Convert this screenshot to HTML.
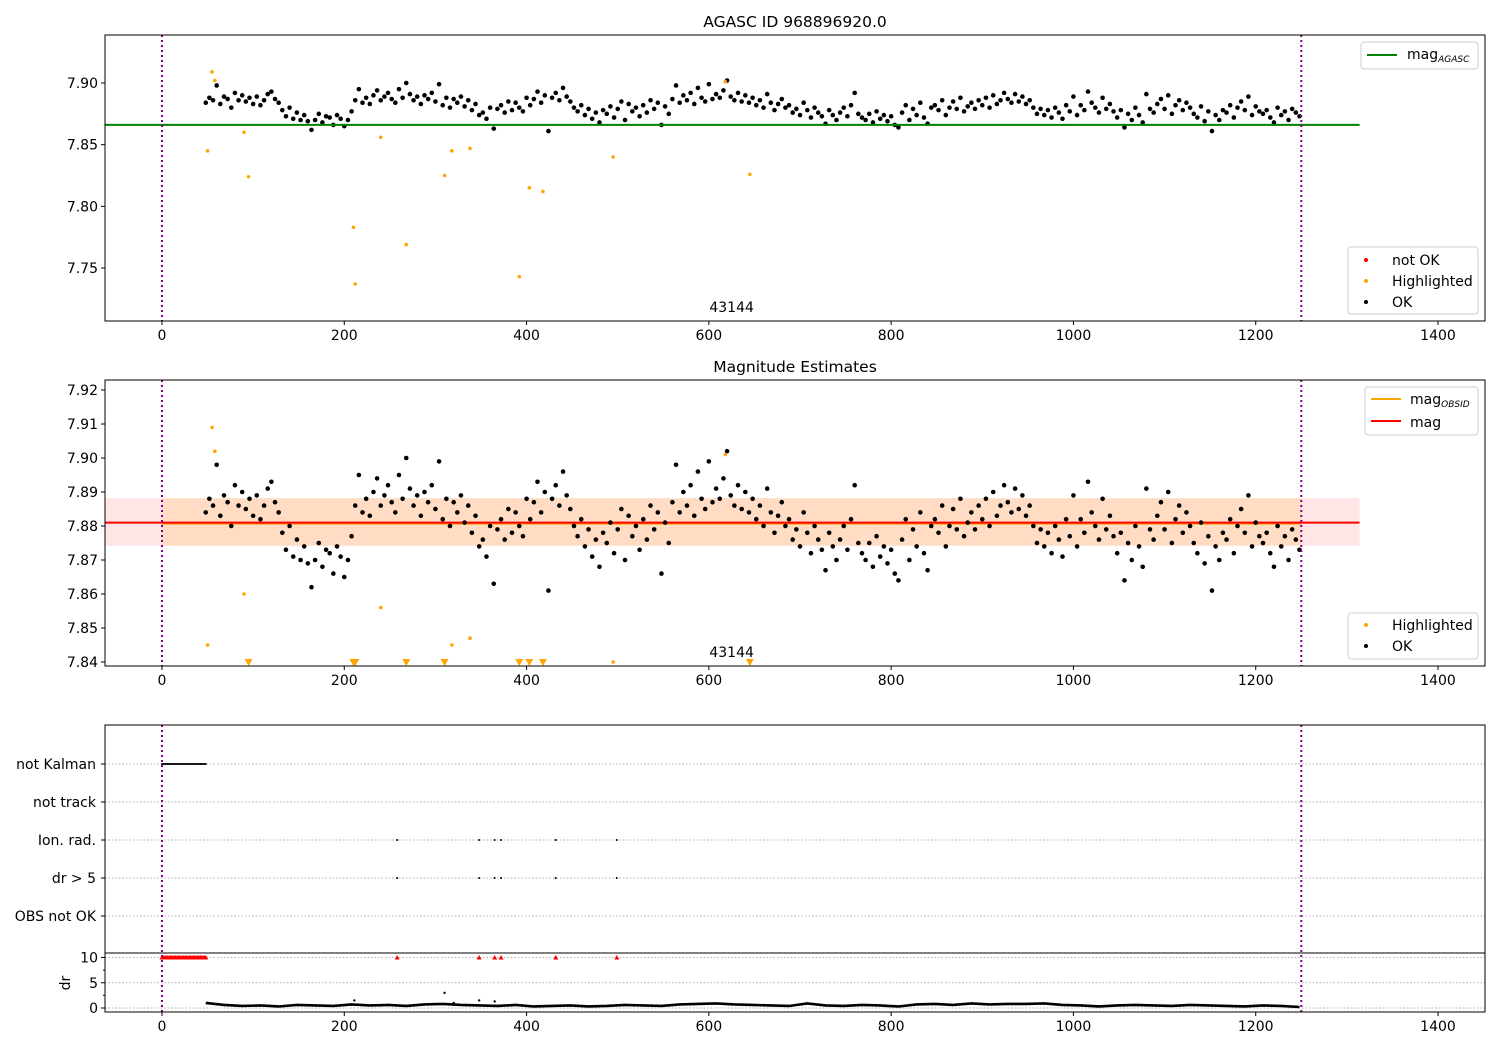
<!DOCTYPE html>
<html><head><meta charset="utf-8"><style>
body{margin:0;background:#fff}
svg{display:block;font-family:"DejaVu Sans","Liberation Sans",sans-serif}
</style></head><body>
<svg id="fig" width="1500" height="1050" viewBox="0 0 1500 1050" xmlns="http://www.w3.org/2000/svg"></svg>
<script>
// ---- data ----
const magStart = 48, magStep = 4;
const magMilli = [
84,88,86,98,83,89,87,80,92,86, 90,85,88,83,89,82,86,91,93,87,
84,78,73,80,71,76,70,74,69,62, 70,75,68,73,72,66,74,71,65,70,
77,86,95,84,88,83,90,94,86,89, 92,87,84,95,88,100,91,86,89,83,
90,87,92,85,99,82,88,80,87,84, 89,81,86,78,83,74,76,71,80,63,
79,82,76,85,78,84,80,77,88,82, 87,93,84,90,61,88,92,86,96,89,
85,80,77,82,74,79,71,76,68,78, 75,81,72,79,85,70,83,77,80,73,
82,76,86,79,84,66,81,75,87,98, 84,90,86,92,83,96,88,85,99,87,
91,88,94,102,89,86,92,85,90,84, 88,82,86,80,91,84,78,83,87,80,
82,76,79,74,84,78,72,80,76,73, 67,78,74,70,76,80,73,82,92,75,
72,70,75,68,77,71,74,69,73,66, 64,76,82,70,79,74,84,72,67,80,
82,78,86,74,80,85,79,88,77,81, 84,79,86,82,88,80,90,83,86,92,
87,84,91,85,89,83,86,80,75,79, 74,78,72,80,76,71,82,77,89,74,
82,78,93,84,80,76,88,79,83,77, 72,78,64,75,70,80,74,68,91,79,
76,83,87,79,90,75,82,86,78,84, 80,75,72,81,69,77,61,74,70,78,
76,82,72,80,85,78,89,74,81,77, 75,78,72,68,80,74,77,70,79,76, 73];
const hlTimes = [50,55,58,90,95,210,212,240,268,310,318,338,392,403,418,495,618,645];
const hlMags = [7.845,7.909,7.902,7.860,7.824,7.783,7.737,7.856,7.769,7.825,7.845,7.847,7.743,7.815,7.812,7.840,7.901,7.826];
const magAgasc = 7.866;
const magMean = 7.8810, magLo = 7.8742, magHi = 7.8882;
const tStart = 0, tEnd = 1250;
const notKalmanEnd = 48;
const ionTimes = [258,348,365,372,432,499];
const drStart = 48, drStep = 20;
const drVals = [1.0,0.6,0.4,0.5,0.3,0.6,0.5,0.4,0.7,0.5,0.6,0.4,0.7,0.8,0.6,0.5,0.4,0.6,0.3,0.4,0.5,0.3,0.4,0.6,0.5,0.4,0.7,0.8,0.9,0.7,0.6,0.5,0.4,0.9,0.5,0.4,0.6,0.5,0.3,0.7,0.8,0.6,0.9,0.7,0.8,0.8,0.9,0.6,0.5,0.3,0.5,0.6,0.5,0.4,0.6,0.5,0.4,0.3,0.5,0.4,0.2];
const drOutT = [211,310,320,348,365];
const drOutV = [1.5,3.0,1.0,1.5,1.3];
const xTicks = [0,200,400,600,800,1000,1200,1400];
const topTicks = [7.75,7.80,7.85,7.90];
const midTicks = [7.84,7.85,7.86,7.87,7.88,7.89,7.90,7.91,7.92];
const cats = ["not Kalman","not track","Ion. rad.","dr > 5","OBS not OK"];
const drTicks = [0,5,10];

// ---- helpers ----
const NS="http://www.w3.org/2000/svg", svg=document.getElementById('fig');
function el(tag,attrs,parent){const e=document.createElementNS(NS,tag);for(const k in attrs)e.setAttribute(k,attrs[k]);(parent||svg).appendChild(e);return e;}
const L=105,R=1485,FS=14;
const X=t=>162+(t)*(1276/1400);
const Ytop=v=>83+(7.90-v)*(61.67/0.05);
const Ymid=v=>390+(7.92-v)*3400;
const Ycat=i=>764+i*38;
const Ydr=v=>1008-v*5.05;
const mags = magMilli.map(m=>7.8+m/1000);
const magT = mags.map((_,i)=>magStart+i*magStep);

function frame(y0,y1,name){
  const r=el('rect',{x:L,y:y0,width:R-L,height:y1-y0,fill:'none',stroke:'#000','stroke-width':1});
  
  
}
function xAxis(y1,name){
  const g=el('g',{});
  
  
  xTicks.forEach(t=>{el('line',{x1:X(t),x2:X(t),y1:y1,y2:y1+4,stroke:'#000'},g);
    const tx=el('text',{x:X(t),y:y1+19,'font-size':FS,'text-anchor':'middle'},g);tx.textContent=t;});
}
function yAxis(ticks,fy,fmt,name){
  const g=el('g',{});
  
  
  ticks.forEach(v=>{const y=fy(v);el('line',{x1:L-4,x2:L,y1:y,y2:y,stroke:'#000'},g);
    const tx=el('text',{x:L-7,y:y+5,'font-size':FS,'text-anchor':'end'},g);tx.textContent=fmt(v);});
}
function vlines(y0,y1){
  [tStart,tEnd].forEach(t=>{const l=el('line',{x1:X(t),x2:X(t),y1:y0,y2:y1,stroke:'#800080','stroke-width':2,'stroke-dasharray':'2,3'});
    
    });
}
function dot(x,y,r,c,g){el('circle',{cx:x,cy:y,r:r,fill:c},g);}
function tri(x,y,c,g){el('path',{d:`M${x-4},${y-4}L${x+4},${y-4}L${x},${y+3}Z`,fill:c},g);}
function utri(x,y,c,g){el('path',{d:`M${x-2.5},${y+2}L${x+2.5},${y+2}L${x},${y-2.5}Z`,fill:c},g);}
function text(x,y,s,size,anchor,name){const t=el('text',{x:x,y:y,'font-size':size,'text-anchor':anchor||'start'});t.textContent=s;
  
  return t;}
function legend(x,y,w,h,name){const g=el('g',{});
  
  
  el('rect',{x:x,y:y,width:w,height:h,rx:3,fill:'#fff','fill-opacity':0.8,stroke:'#ccc'},g);return g;}

// ---- top panel ----
text(795,27,'AGASC ID 968896920.0',15.5,'middle','top-title');
const gTop=el('g',{});


const agl=el('line',{x1:L,x2:X(1314),y1:Ytop(magAgasc),y2:Ytop(magAgasc),stroke:'#008000','stroke-width':2});


mags.forEach((m,i)=>dot(X(magT[i]),Ytop(m),2.3,'#000',gTop));
hlMags.forEach((m,i)=>dot(X(hlTimes[i]),Ytop(m),1.8,'#ffa500',gTop));
vlines(35,321);
text(X(625),312,'43144',FS,'middle','top-obsid-label');
frame(35,321,'top-axes');
xAxis(321,'top-x-axis');
yAxis(topTicks,Ytop,v=>v.toFixed(2),'top-y-axis');
let lg=legend(1361,42,117,27,'top-legend-mag');
el('line',{x1:1367,x2:1397,y1:55,y2:55,stroke:'#008000','stroke-width':2},lg);
let t=el('text',{x:1407,y:59,'font-size':FS},lg);t.innerHTML='mag<tspan font-size="9" font-style="italic" dy="3">AGASC</tspan>';
lg=legend(1348,247,130,67,'top-legend-status');
[['not OK','#f00',260],['Highlighted','#ffa500',281],['OK','#000',302]].forEach(a=>{dot(1366,a[2],2,a[1],lg);
  const tt=el('text',{x:1392,y:a[2]+5,'font-size':FS},lg);tt.textContent=a[0];});

// ---- middle panel ----
text(795,372,'Magnitude Estimates',15.5,'middle','middle-title');
const b1=el('rect',{x:L,y:Ymid(magHi),width:X(1314)-L,height:Ymid(magLo)-Ymid(magHi),fill:'#f00','fill-opacity':0.1});


const b2=el('rect',{x:X(tStart),y:Ymid(magHi),width:X(tEnd)-X(tStart),height:Ymid(magLo)-Ymid(magHi),fill:'#ffa500','fill-opacity':0.15});


const ol=el('line',{x1:X(tStart),x2:X(tEnd),y1:Ymid(magMean)+1,y2:Ymid(magMean)+1,stroke:'#ffa500','stroke-width':2});


const rl=el('line',{x1:L,x2:X(1314),y1:Ymid(magMean),y2:Ymid(magMean),stroke:'#f00','stroke-width':2});


const gMid=el('g',{});


mags.forEach((m,i)=>dot(X(magT[i]),Ymid(m),2.3,'#000',gMid));
hlMags.forEach((m,i)=>{ if(m<7.8395) tri(X(hlTimes[i]),Ymid(7.84)+1,'#ffa500',gMid); else dot(X(hlTimes[i]),Ymid(m),1.8,'#ffa500',gMid);});
vlines(380,666);
text(X(625),657,'43144',FS,'middle','middle-obsid-label');
frame(380,666,'middle-axes');
xAxis(666,'middle-x-axis');
yAxis(midTicks,Ymid,v=>v.toFixed(2),'middle-y-axis');
lg=legend(1365,387,113,48,'middle-legend-mag');
el('line',{x1:1371,x2:1401,y1:399,y2:399,stroke:'#ffa500','stroke-width':2},lg);
t=el('text',{x:1410,y:404,'font-size':FS},lg);t.innerHTML='mag<tspan font-size="9" font-style="italic" dy="3">OBSID</tspan>';
el('line',{x1:1371,x2:1401,y1:421,y2:421,stroke:'#f00','stroke-width':2},lg);
t=el('text',{x:1410,y:427,'font-size':FS},lg);t.textContent='mag';
lg=legend(1348,613,130,46,'middle-legend-status');
[['Highlighted','#ffa500',625],['OK','#000',646]].forEach(a=>{dot(1366,a[2],2,a[1],lg);
  const tt=el('text',{x:1392,y:a[2]+5,'font-size':FS},lg);tt.textContent=a[0];});

// ---- bottom flags panel ----
const gGrid=el('g',{});


cats.forEach((c,i)=>el('line',{x1:L,x2:R,y1:Ycat(i),y2:Ycat(i),stroke:'#b0b0b0','stroke-dasharray':'1.5,2'},gGrid));
drTicks.forEach(v=>el('line',{x1:L,x2:R,y1:Ydr(v),y2:Ydr(v),stroke:'#b0b0b0','stroke-dasharray':'1.5,2'},gGrid));
const gFl=el('g',{});


for(let s=tStart;s<=notKalmanEnd;s+=1.5){dot(X(s),Ycat(0),1,'#000',gFl);utri(X(s),Ydr(10),'#f00',gFl);}
ionTimes.forEach(s=>{dot(X(s),Ycat(2),1,'#000',gFl);dot(X(s),Ycat(3),1,'#000',gFl);utri(X(s),Ydr(10),'#f00',gFl);});
const drl=el('polyline',{points:drVals.map((v,i)=>X(drStart+i*drStep)+','+Ydr(v)).join(' '),fill:'none',stroke:'#000','stroke-width':2.6,'stroke-linejoin':'round'});


drOutT.forEach((s,i)=>dot(X(s),Ydr(drOutV[i]),1.2,'#000',gFl));
vlines(725,1012);
const f3=el('rect',{x:L,y:725,width:R-L,height:287,fill:'none',stroke:'#000'});


const sep=el('line',{x1:L,x2:R,y1:953,y2:953,stroke:'#000'});


xAxis(1012,'bottom-x-axis');
const gc=el('g',{});


cats.forEach((c,i)=>{el('line',{x1:L-4,x2:L,y1:Ycat(i),y2:Ycat(i),stroke:'#000'},gc);
  const tt=el('text',{x:L-9,y:Ycat(i)+5,'font-size':FS,'text-anchor':'end'},gc);tt.textContent=c;});
yAxis(drTicks,Ydr,v=>String(v),'dr-y-axis');
[2.5,7.5].forEach(v=>el('line',{x1:L-2,x2:L,y1:Ydr(v),y2:Ydr(v),stroke:'#000'}));
const dl=el('text',{x:70,y:983,'font-size':FS,'text-anchor':'middle',transform:'rotate(-90 70 983)'});
dl.textContent='dr';


</script>
</body></html>
